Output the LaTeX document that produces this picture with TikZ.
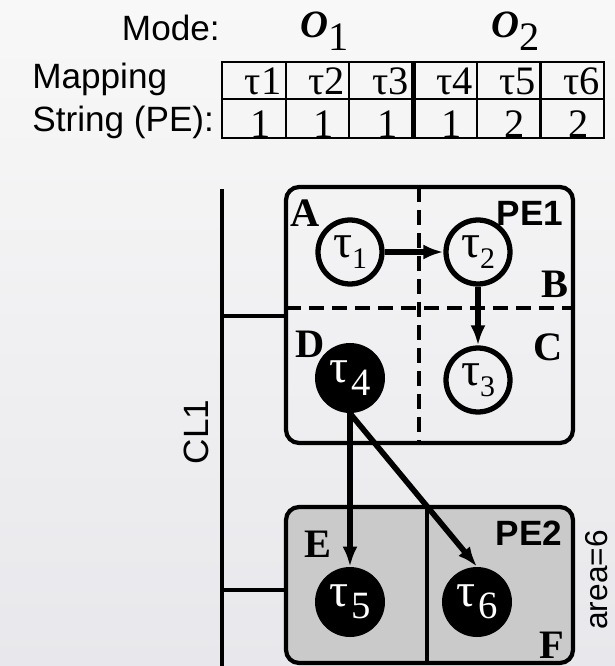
\documentclass[tikz,border=0pt]{standalone}
\usepackage{fontspec}
\setmainfont{Liberation Serif}
\setsansfont{Liberation Sans}
\usetikzlibrary{arrows.meta}
\definecolor{bgtop}{RGB}{248,248,248}
\definecolor{bgbot}{RGB}{232,231,235}
\definecolor{pegray}{RGB}{202,202,202}
\newcommand{\tk}[1]{τ\raisebox{-6pt}{\fontsize{17}{17}\selectfont #1}}
\newcommand{\tkb}[1]{τ\kern1.5pt\raisebox{-7pt}{\fontsize{22}{22}\selectfont #1}}
\newcommand{\modeo}[1]{{\fontsize{22}{22}\selectfont\textbf{\textit{O}}}{\fontsize{23}{23}\selectfont\raisebox{-7.4pt}{#1}}}
\tikzset{
  task/.style={circle, draw=black, line width=3pt, minimum size=1.28cm, inner sep=0pt, font=\fontsize{27}{27}\selectfont},
  loadtask/.style={circle, fill=black, text=white, minimum size=1.4cm, inner sep=0pt, font=\fontsize{27}{27}\selectfont},
  pebox/.style={draw=black, line width=2.4pt, rounded corners=0.26cm, minimum width=5.74cm, inner sep=0pt},
  split/.style={line width=2.2pt, dash pattern=on 0.3cm off 0.16cm},
  bus/.style={line width=2.2pt},
  tabline/.style={line width=1.2pt},
  arrow/.style={-{Latex[length=4mm, width=3mm]}, line width=3.2pt},
  region/.style={font=\fontsize{23}{23}\selectfont\bfseries, inner sep=0pt},
  pename/.style={font=\sffamily\bfseries\fontsize{20}{20}\selectfont, inner sep=0pt},
  heading/.style={font=\sffamily\fontsize{20}{20}\selectfont, inner sep=0pt},
  cell/.style={font=\fontsize{23}{23}\selectfont, inner sep=0pt}
}
\begin{document}
\begin{tikzpicture}[x=0.02cm, y=-0.02cm]
  \fill[top color=bgtop, bottom color=bgbot] (0,0) rectangle (615,666);
  \useasboundingbox (0,0) rectangle (615,666);

  \node[heading, anchor=base east] (mode) at (220,40) {Mode:};
  \node[anchor=base west, inner sep=0pt] (o1) at (300,37) {\modeo{1}};
  \node[anchor=base west, inner sep=0pt] (o2) at (491,37) {\modeo{2}};
  \node[heading, anchor=base west] (mapping) at (32,88) {Mapping};
  \node[heading, anchor=base west] (string) at (32,131) {String (PE):};

  \draw[tabline] (222,62) rectangle (604,138);
  \draw[tabline] (222,99) -- (604,99);
  \foreach \c in {1,2,4,5}
    \draw[tabline] ({222+63.7*\c},62) -- ({222+63.7*\c},138);
  \draw[line width=2.8pt] ({222+63.7*3},62) -- ({222+63.7*3},138);
  \foreach \c/\p in {1/1,2/1,3/1,4/1,5/2,6/2} {
    \node[cell, anchor=base east] (map\c) at ({222+63.7*\c-4},94) {τ\c};
    \node[cell, anchor=base east] (pe\c) at ({222+63.7*\c-15},137) {\p};
  }

  \coordinate (bustop) at (222,189);
  \coordinate (busend) at (222,666);
  \coordinate (bus1) at (222,316);
  \coordinate (bus2) at (222,590);
  \node[pebox, minimum height=5.12cm] (pe1) at (429.5,315) {};
  \node[pebox, minimum height=3.12cm, fill=pegray] (pe2) at (429.5,585) {};
  \draw[bus] (bustop) -- (busend);
  \draw[bus] (bus1) -- (pe1.west |- bus1);
  \draw[bus] (bus2) -- (pe2.west |- bus2);

  \draw[split] (419,187) -- (419,443);
  \draw[split] (286,308) -- (573,308);
  \draw[line width=2.2pt] (427,507) -- (427,663);

  \node[task] (t1) at (350,252) {\tk{1}};
  \node[task] (t2) at (478,252) {\tk{2}};
  \node[task] (t3) at (478,380) {\tk{3}};
  \node[loadtask] (t4) at (350,378) {\tkb{4}};
  \node[loadtask] (t5) at (350,602) {\tkb{5}};
  \node[loadtask] (t6) at (477,602) {\tkb{6}};

  \draw[arrow] (t1) -- (t2);
  \draw[arrow] (t2) -- (t3);
  \draw[arrow] (t4) -- (t5);
  \draw[arrow] (t4.south) -- (t6.north);

  \node[region] (la) at (305,213) {A};
  \node[region] (lb) at (555,284) {B};
  \node[region] (lc) at (548,347) {C};
  \node[region] (ld) at (310,344) {D};
  \node[region] (le) at (318,544) {E};
  \node[region] (lf) at (552,645) {F};
  \node[pename] (pe1name) at (530,213) {PE1};
  \node[pename] (pe2name) at (529,533) {PE2};
  \node[heading, rotate=90] (cl1) at (196,432) {CL1};
  \node[heading, rotate=90, font=\sffamily\fontsize{18}{18}\selectfont] (area) at (597,580) {area=6};
\end{tikzpicture}
\end{document}
